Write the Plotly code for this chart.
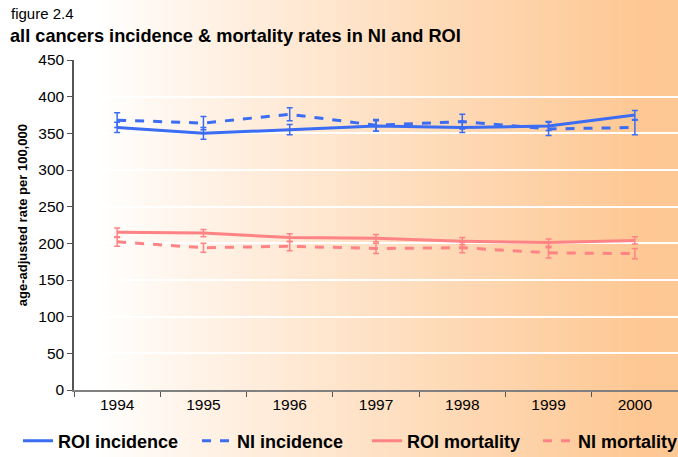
import plotly.graph_objects as go

years = ["1994", "1995", "1996", "1997", "1998", "1999", "2000"]
roi_inc = [358, 350, 355, 360, 358, 360, 375]
roi_inc_err = [7, 8, 7, 7, 7, 6, 6]
ni_inc = [368, 364, 376, 361, 366, 356, 358]
ni_inc_err = [10, 9, 9, 8, 10, 9, 10]
roi_mort = [215, 214, 208, 207, 203, 201, 204]
roi_mort_err = [6, 5, 5, 5, 5, 5, 5]
ni_mort = [202, 194, 196, 193, 194, 187, 186]
ni_mort_err = [6, 6, 6, 7, 7, 7, 7]

BLUE = "#3A6CF4"
PINK = "#FF8384"

W, H = 678, 457
L, R, T, B = 74, -2, 60, 67

fig = go.Figure()

def add(name, y, err, color, dash, leg):
    fig.add_trace(go.Scatter(
        x=years, y=y, name="<b>%s</b>" % name, mode="lines",
        line=dict(color=color, width=3, dash=dash),
        error_y=dict(type="data", array=err, visible=True, color=color,
                     thickness=1.5, width=3),
        legend=leg,
    ))

add("ROI incidence", roi_inc, roi_inc_err, BLUE, "solid", "legend")
add("NI incidence", ni_inc, ni_inc_err, BLUE, "dash", "legend2")
add("ROI mortality", roi_mort, roi_mort_err, PINK, "solid", "legend3")
add("NI mortality", ni_mort, ni_mort_err, PINK, "dash", "legend4")

# background gradient strips
shapes = []
pw = W - L - R
ph = H - T - B
step = 6
start, end = 100, 640
c0 = (255, 255, 255)
c1 = (254, 200, 148)
for px in range(-step, W + step, step):
    t = min(max((px + step / 2 - start) / (end - start), 0), 1) ** 0.9
    col = tuple(round(c0[i] + (c1[i] - c0[i]) * t) for i in range(3))
    shapes.append(dict(type="rect", xref="paper", yref="paper",
                       x0=(px - L) / pw, x1=(px + step + 1 - L) / pw,
                       y0=-(B + 5) / ph, y1=1 + (T + 5) / ph,
                       fillcolor="rgb(%d,%d,%d)" % col, line=dict(width=0),
                       layer="below"))

def leg(xpx):
    return dict(orientation="h", xref="container", yref="container",
                x=xpx / W, y=16 / H, xanchor="left", yanchor="middle",
                bgcolor="rgba(0,0,0,0)", font=dict(size=18, color="#000"))

fig.update_layout(
    width=W, height=H,
    margin=dict(l=L, r=0, t=T, b=B, autoexpand=False),
    paper_bgcolor="white", plot_bgcolor="rgba(0,0,0,0)",
    shapes=shapes,
    font=dict(family="Liberation Sans, Arial, sans-serif", color="#000000"),
    showlegend=True,
    legend=leg(18), legend2=leg(197), legend3=leg(367), legend4=leg(538),
    annotations=[
        dict(text="figure 2.4", xref="paper", yref="paper", x=(9 - L) / pw,
             y=1 + (T - 13) / ph, xanchor="left", yanchor="middle",
             showarrow=False, font=dict(size=15)),
        dict(text="<b>all cancers incidence &amp; mortality rates in NI and ROI</b>",
             xref="paper", yref="paper", x=(8 - L) / pw,
             y=1 + (T - 36) / ph, xanchor="left", yanchor="middle",
             showarrow=False, font=dict(size=18.2)),
        dict(text="<b>age-adjusted rate per 100,000</b>", xref="paper", yref="paper",
             x=(22 - L) / pw, y=(390 - 215) / ph, xanchor="center", yanchor="middle",
             textangle=-90, showarrow=False, font=dict(size=13)),
    ],
)

fig.update_xaxes(range=[-0.5, 6.5], showgrid=False, showline=True, linecolor="#808080",
                 linewidth=1.5, ticks="outside", tickson="boundaries", ticklen=5,
                 tickcolor="#555", tickfont=dict(size=15.5), zeroline=False)
fig.update_yaxes(range=[0, 450], dtick=50, showgrid=True, gridcolor="white", gridwidth=2,
                 showline=True, linecolor="#555", linewidth=1.5, ticks="outside",
                 ticklen=5, tickcolor="#555", tickfont=dict(size=15.5), zeroline=False)

fig.write_html("out.html", config=dict(displayModeBar=False),
               post_script="document.body.style.margin='0';document.body.style.overflow='hidden';")
